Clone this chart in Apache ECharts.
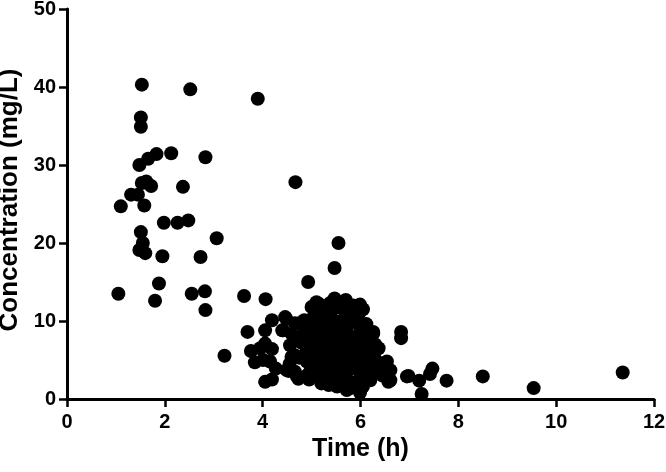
<!DOCTYPE html>
<html>
<head>
<meta charset="utf-8">
<script src="https://cdn.jsdelivr.net/npm/echarts@6/dist/echarts.min.js"></script>
<style>
  html, body { margin: 0; padding: 0; background: #fff; }
  #chart { width: 666px; height: 472px; }
</style>
</head>
<body>
<div id="chart"></div>
<script>
// time (h) / concentration (mg/L) points
var earlyPoints = [
    [1.53, 40.3], [2.52, 39.7], [3.90, 38.5], [1.51, 36.1], [1.51, 34.9],
    [1.48, 30.0], [1.66, 30.8], [1.83, 31.4], [2.13, 31.5], [2.83, 31.0],
    [1.53, 27.7], [1.62, 27.9], [1.72, 27.3], [2.37, 27.2], [4.67, 27.8],
    [1.31, 26.2], [1.45, 26.2], [1.10, 24.7], [1.58, 24.8], [1.98, 22.6],
    [2.26, 22.6], [2.48, 22.9], [1.51, 21.4], [3.06, 20.6], [1.55, 20.0],
    [5.55, 20.0], [1.48, 19.1], [1.60, 18.7], [1.95, 18.3], [2.73, 18.2],
    [5.47, 16.8], [4.93, 15.0], [1.05, 13.5], [1.88, 14.8], [1.80, 12.6],
    [2.55, 13.5], [2.82, 13.8], [2.83, 11.4], [3.62, 13.2], [4.06, 12.8]
];
var midPoints = [
    [3.22, 5.55], [3.69, 8.6], [3.76, 6.15], [3.84, 4.7], [3.95, 6.5],
    [4.05, 7.1], [4.19, 10.1], [4.05, 8.8], [4.19, 6.4], [4.01, 5.0],
    [4.15, 4.8], [4.27, 3.9], [4.05, 2.2], [4.19, 2.5], [4.48, 10.3],
    [4.40, 8.8], [4.53, 3.6], [4.56, 6.9], [4.66, 9.7], [4.66, 5.6],
    [4.46, 10.5], [4.42, 8.8], [4.49, 3.7], [4.66, 3.5], [4.73, 2.6],
    [4.76, 9.7], [4.59, 5.4], [4.90, 4.8], [4.70, 2.9], [4.97, 3.5]
];
var clusterPoints = [
    [5.47, 12.9], [5.70, 12.7], [5.17, 12.1], [5.99, 12.1], [5.89, 11.2],
    [5.24, 11.0], [5.07, 9.7], [5.92, 10.1], [6.26, 8.6], [6.35, 6.5],
    [6.54, 4.8], [6.61, 3.7], [5.99, 0.8], [5.79, 1.4], [5.52, 1.6],
    [6.20, 2.4], [6.61, 2.4], [5.38, 12.3], [5.69, 12.1], [5.04, 9.3],
    [5.79, 11.8], [5.96, 10.8], [6.26, 8.4], [6.37, 6.5], [6.50, 4.6],
    [6.57, 2.2], [5.72, 1.15], [6.23, 3.7], [6.20, 2.65], [5.86, 11.4],
    [4.80, 7.2], [4.85, 8.5], [4.90, 6.1], [4.95, 9.6], [5.00, 5.2],
    [5.00, 7.8], [5.05, 4.1], [5.05, 10.6], [5.10, 6.6], [5.10, 8.9],
    [5.15, 3.2], [5.15, 5.7], [5.20, 7.4], [5.20, 9.8], [5.25, 4.5],
    [5.25, 6.2], [5.30, 8.3], [5.30, 11.4], [5.30, 2.7], [5.35, 5.1],
    [5.35, 7.0], [5.40, 9.3], [5.40, 3.6], [5.40, 10.4], [5.45, 6.0],
    [5.45, 8.0], [5.50, 4.3], [5.50, 7.3], [5.50, 11.7], [5.55, 2.4],
    [5.55, 5.5], [5.55, 9.0], [5.60, 6.7], [5.60, 3.4], [5.60, 10.0],
    [5.65, 8.4], [5.65, 4.8], [5.70, 7.1], [5.70, 2.9], [5.70, 11.0],
    [5.75, 5.9], [5.75, 9.5], [5.80, 3.9], [5.80, 8.0], [5.85, 6.4],
    [5.85, 2.1], [5.90, 10.3], [5.90, 4.6], [5.95, 7.6], [5.95, 5.3],
    [6.00, 9.0], [6.00, 3.1], [6.05, 6.9], [6.05, 11.5], [6.10, 4.2],
    [6.10, 8.2], [6.15, 5.6], [6.15, 2.8], [6.20, 7.3], [6.25, 3.9],
    [4.90, 3.0], [5.00, 11.8], [5.20, 2.0], [5.45, 1.9], [5.65, 12.5],
    [5.85, 12.0], [4.75, 5.3], [4.70, 7.8], [4.60, 8.3], [4.55, 4.5],
    [4.95, 2.5], [6.30, 5.1], [6.40, 4.0], [6.45, 3.0], [6.30, 7.0],
    [5.10, 12.4], [5.35, 1.8], [5.75, 1.7], [6.05, 1.6], [4.85, 10.1],
    [5.58, 7.9], [5.33, 6.3], [5.12, 4.8], [5.78, 4.3], [5.93, 6.0],
    [5.48, 9.9], [5.22, 8.6], [5.68, 5.2], [6.12, 9.6], [5.03, 6.9]
];
var latePoints = [
    [6.83, 8.6], [6.83, 7.8], [6.98, 2.95], [7.20, 2.35], [7.25, 0.64],
    [7.42, 3.2], [7.47, 3.9], [7.76, 2.35], [8.50, 2.9], [9.54, 1.4],
    [11.36, 3.4], [6.95, 2.9]
];
var xTicks = { min: 0, max: 12, step: 2 };
var yTicks = { min: 0, max: 50, step: 10 };

var allPoints = earlyPoints.concat(midPoints, clusterPoints, latePoints);

var myChart = echarts.init(document.getElementById('chart'));
var font = 'Liberation Sans, Arial, sans-serif';
var option = {
    animation: false,
    grid: {
        left: 67,
        right: 12,
        top: 9,
        bottom: 73,
        containLabel: false,
        outerBoundsMode: 'none'
    },
    xAxis: {
        type: 'value',
        min: xTicks.min,
        max: xTicks.max,
        interval: xTicks.step,
        name: 'Time (h)',
        nameLocation: 'middle',
        nameGap: 34,
        nameTextStyle: { fontFamily: font, fontWeight: 'bold', fontSize: 25, color: '#000' },
        axisLine: { lineStyle: { color: '#000', width: 3 } },
        axisTick: { length: 8, lineStyle: { color: '#000', width: 2.5 } },
        axisLabel: { fontFamily: font, fontWeight: 'bold', fontSize: 20, color: '#000', margin: 13 },
        splitLine: { show: false }
    },
    yAxis: {
        type: 'value',
        min: yTicks.min,
        max: yTicks.max,
        interval: yTicks.step,
        name: 'Concentration (mg/L)',
        nameLocation: 'middle',
        nameGap: 42,
        nameTextStyle: { fontFamily: font, fontWeight: 'bold', fontSize: 26, color: '#000', padding: [0, 0, 0, 8] },
        axisLine: { show: true, lineStyle: { color: '#000', width: 3 } },
        axisTick: { show: true, length: 8, lineStyle: { color: '#000', width: 2.5 } },
        axisLabel: { fontFamily: font, fontWeight: 'bold', fontSize: 20, color: '#000', margin: 11 },
        splitLine: { show: false }
    },
    series: [{
        type: 'scatter',
        symbol: 'circle',
        symbolSize: 14,
        itemStyle: { color: '#000', opacity: 1 },
        data: allPoints
    }]
};
myChart.setOption(option);
</script>
</body>
</html>
